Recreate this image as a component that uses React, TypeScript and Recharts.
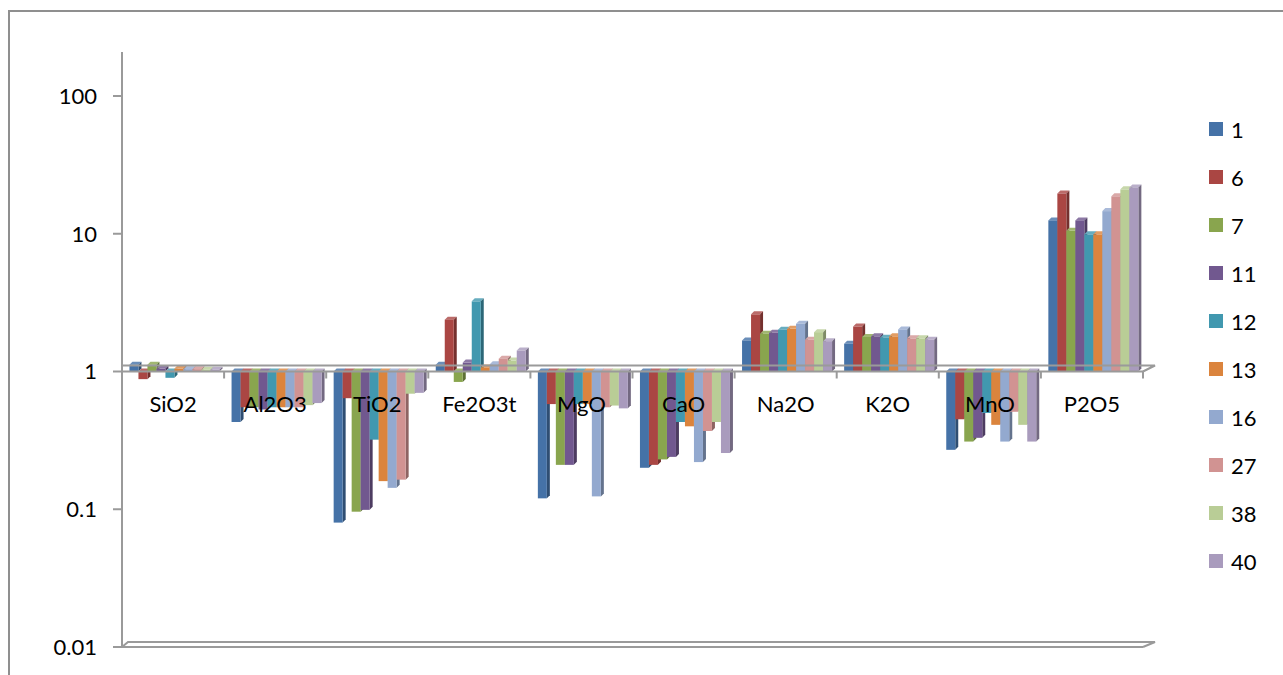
import React from 'react';
import { BarChart, Bar, XAxis, YAxis, ReferenceLine, Legend } from 'recharts';

const categories = ['SiO2', 'Al2O3', 'TiO2', 'Fe2O3t', 'MgO', 'CaO', 'Na2O', 'K2O', 'MnO', 'P2O5'];
const seriesNames = ['1', '6', '7', '11', '12', '13', '16', '27', '38', '40'];
const seriesColors = ['#4572A7', '#AA4643', '#89A54E', '#71588F', '#4198AF', '#DB843D', '#93A9CF', '#D19392', '#B9CD96', '#A99BBD'];

const s1 = [1.12, 0.43, 0.080, 1.12, 0.12, 0.20, 1.68, 1.59, 0.27, 12.5];
const s6 = [0.88, 0.55, 0.64, 2.38, 0.58, 0.21, 2.6, 2.12, 0.45, 19.6];
const s7 = [1.12, 0.55, 0.096, 0.84, 0.21, 0.23, 1.88, 1.78, 0.31, 10.5];
const s11 = [1.05, 0.53, 0.099, 1.16, 0.21, 0.24, 1.91, 1.80, 0.33, 12.5];
const s12 = [0.90, 0.55, 0.32, 3.23, 0.58, 0.43, 2.01, 1.76, 0.50, 9.9];
const s13 = [1.05, 0.55, 0.16, 1.07, 0.58, 0.40, 2.04, 1.80, 0.41, 9.9];
const s16 = [1.04, 0.55, 0.143, 1.13, 0.124, 0.22, 2.22, 2.02, 0.31, 14.6];
const s27 = [1.04, 0.55, 0.164, 1.24, 0.55, 0.37, 1.70, 1.74, 0.51, 18.7];
const s38 = [1.03, 0.57, 0.69, 1.20, 0.566, 0.43, 1.93, 1.74, 0.41, 21.0];
const s40 = [1.03, 0.59, 0.70, 1.42, 0.54, 0.256, 1.66, 1.70, 0.31, 21.7];
const seriesValues = [s1, s6, s7, s11, s12, s13, s16, s27, s38, s40];

const yTicks = [0.01, 0.1, 1, 10, 100];
const baseValue = 1;

const data = categories.map((c, i) => {
  const row: any = { name: c };
  seriesNames.forEach((s, j) => {
    row['s' + s] = [baseValue, seriesValues[j][i]];
  });
  return row;
});

const W = 1283;
const H = 675;
const M = { top: 96, right: 140, bottom: 8, left: 22 };
const YAXIS_W = 100;
const XAXIS_H = 20;
const PLOT_W = W - M.left - M.right - YAXIS_W;
const PLOT_H = H - M.top - M.bottom - XAXIS_H;
const MID_Y = M.top + PLOT_H / 2;
const BAND = PLOT_W / categories.length;
const FONT = 'Lato, "Open Sans", sans-serif';
const FONT_SIZE = 22;
const AXIS_GRAY = '#9a9a9a';

function shade(hex: string, f: number) {
  const n = parseInt(hex.slice(1), 16);
  const r = (n >> 16) & 255, g = (n >> 8) & 255, b = n & 255;
  const adj = (v: number) => Math.max(0, Math.min(255, Math.round(f > 1 ? v + (255 - v) * (f - 1) : v * f)));
  return `rgb(${adj(r)},${adj(g)},${adj(b)})`;
}

const Bar3D = (props: any) => {
  const { x, y, width, height, fill } = props;
  if (x == null || y == null) return null;
  const top = Math.min(y, y + height);
  const h = Math.abs(height);
  const d = 3;
  return (
    <g>
      <polygon
        points={`${x},${top} ${x + d},${top - d} ${x + width + d},${top - d} ${x + width},${top}`}
        fill={shade(fill, 1.2)}
      />
      <polygon
        points={`${x + width},${top} ${x + width + d},${top - d} ${x + width + d},${top + h - d} ${x + width},${top + h}`}
        fill={shade(fill, 0.68)}
      />
      <rect x={x} y={top} width={width} height={h} fill={fill} />
    </g>
  );
};

const CatTick = (props: any) => {
  const { x, payload } = props;
  return (
    <g>
      <line x1={x + BAND / 2} x2={x + BAND / 2} y1={MID_Y} y2={MID_Y + 7} stroke={AXIS_GRAY} strokeWidth={2} />
      <text x={x} y={MID_Y + 40} textAnchor="middle" fontSize={FONT_SIZE} fontFamily={FONT} fill="#000">
        {payload.value}
      </text>
    </g>
  );
};

const BaseLineShape = (props: any) => {
  const { x1, y1, x2, y2 } = props;
  if (x1 == null) return null;
  return (
    <g stroke={AXIS_GRAY} strokeWidth={2} fill="none">
      <polyline points={`${x1},${y1 - 6} ${x2 + 12},${y2 - 6} ${x2},${y2}`} />
      <line x1={x1} y1={y1} x2={x2} y2={y2} />
    </g>
  );
};

const FloorShape = (props: any) => {
  const { x1, y1, x2, y2 } = props;
  if (x1 == null) return null;
  return (
    <g stroke={AXIS_GRAY} strokeWidth={2} fill="none">
      <polyline points={`${x1},${y1} ${x1 + 6},${y1 - 5} ${x2 + 12},${y2 - 5} ${x2},${y2}`} />
      <line x1={x1} y1={y1} x2={x2} y2={y2} />
    </g>
  );
};

const TopExtension = (props: any) => {
  const { x1, y1 } = props;
  if (x1 == null) return null;
  return <line x1={x1} y1={y1 - 44} x2={x1} y2={y1} stroke={AXIS_GRAY} strokeWidth={2} />;
};

const LegendContent = () => (
  <div>
    {seriesNames.map((n, i) => (
      <div key={n} style={{ display: 'flex', alignItems: 'center', height: 48 }}>
        <span style={{ display: 'inline-block', width: 14, height: 14, background: seriesColors[i], marginRight: 8 }} />
        <span style={{ fontSize: FONT_SIZE, fontFamily: FONT, color: '#000' }}>{n}</span>
      </div>
    ))}
  </div>
);

export default function App() {
  return (
    <div style={{ position: 'fixed', left: 0, top: 0, width: W, height: H, overflow: 'hidden', background: '#fff' }}>
      <div
        style={{
          position: 'absolute',
          left: 8,
          top: 10,
          width: 1400,
          height: 800,
          borderLeft: '2px solid #8f8f8f',
          borderTop: '2px solid #8f8f8f',
        }}
      />
      <BarChart width={W} height={H} data={data} margin={M} barCategoryGap="7.3%" barGap={0}>
        <YAxis
          scale="log"
          domain={[0.01, 100]}
          ticks={yTicks}
          allowDataOverflow
          width={YAXIS_W}
          tickSize={9}
          tickMargin={16}
          tickFormatter={(v: number) => String(v)}
          axisLine={{ stroke: AXIS_GRAY, strokeWidth: 2 }}
          tickLine={{ stroke: AXIS_GRAY, strokeWidth: 2 }}
          tick={{ fontSize: FONT_SIZE, fontFamily: FONT, fill: '#000' }}
        />
        <ReferenceLine y={100} ifOverflow="visible" shape={TopExtension} />
        <ReferenceLine y={0.01} ifOverflow="visible" shape={FloorShape} />
        <ReferenceLine y={1} ifOverflow="visible" shape={BaseLineShape} />
        {seriesNames.map((n, j) => (
          <Bar
            key={n}
            dataKey={'s' + n}
            name={n}
            fill={seriesColors[j]}
            isAnimationActive={false}
            shape={Bar3D}
          />
        ))}
        <XAxis
          dataKey="name"
          height={XAXIS_H}
          axisLine={false}
          tickLine={false}
          interval={0}
          tick={<CatTick />}
        />
        <Legend
          layout="horizontal"
          verticalAlign="middle"
          align="center"
          content={<LegendContent />}
          wrapperStyle={{ position: 'absolute', left: 1209, top: 105, width: 70 }}
        />
      </BarChart>
    </div>
  );
}
